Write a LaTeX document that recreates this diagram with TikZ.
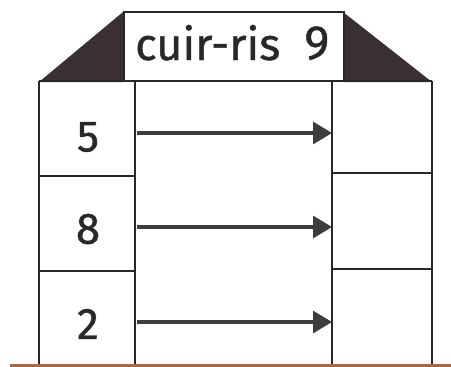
\documentclass[tikz,border=0pt]{standalone}
\usepackage{fontspec}
\setmainfont{Fira Sans}[FakeBold=0.9]
\usetikzlibrary{arrows.meta}
\definecolor{roof}{RGB}{58,48,50}
\definecolor{ink}{RGB}{40,40,40}
\definecolor{ground}{RGB}{165,105,70}
\tikzset{
  wall/.style={line width=2pt, draw=ink},
  numlabel/.style={font=\fontsize{44}{44}\selectfont, text=ink, inner sep=0pt},
  flow/.style={line width=3.2pt, draw=ink!90, -{Triangle[length=19pt,width=22pt]}},
}
\begin{document}
\begin{tikzpicture}[x=1pt,y=-1pt]
\useasboundingbox (0,0) rectangle (451,367);
% roof
\fill[roof] (39,82) -- (123,12) -- (123,82) -- cycle;
\fill[roof] (343,12) -- (432,82) -- (343,82) -- cycle;
\node[wall, draw, fill=white, minimum width=220pt, minimum height=69pt, inner sep=0pt, anchor=north west, line width=2pt] (title) at (123,11) {};
\node[font=\fontsize{45}{45}\selectfont, text=ink, inner sep=0pt, anchor=base west] (tt) at (135,60) {cuir-ris\hspace{24pt}\raisebox{1pt}{\fontsize{48}{48}\selectfont 9}};
% walls
\draw[wall] (39,81) -- (432,81);
\draw[wall] (39,81) -- (39,365);
\draw[wall] (135,81) -- (135,365);
\draw[wall] (332,81) -- (332,365);
\draw[wall] (432,81) -- (432,365);
\draw[wall] (39,176) -- (135,176);
\draw[wall] (39,271) -- (135,271);
\draw[wall] (332,173) -- (432,173);
\draw[wall] (332,269) -- (432,269);
% numbers
\node[numlabel] (n5) at (88,137) {5};
\node[numlabel] (n8) at (88,229) {8};
\node[numlabel] (n2) at (88,324) {2};
% arrow endpoints
\coordinate (s5) at (137,133);
\coordinate (s8) at (137,227);
\coordinate (s2) at (137,322);
\coordinate (r5) at (332,133);
\coordinate (r8) at (332,227);
\coordinate (r2) at (332,322);
\draw[flow] (s5) -- (r5);
\draw[flow] (s8) -- (r8);
\draw[flow] (s2) -- (r2);
% ground
\draw[line width=2.5pt, ground] (10,365.5) -- (451,365.5);
\end{tikzpicture}
\end{document}
